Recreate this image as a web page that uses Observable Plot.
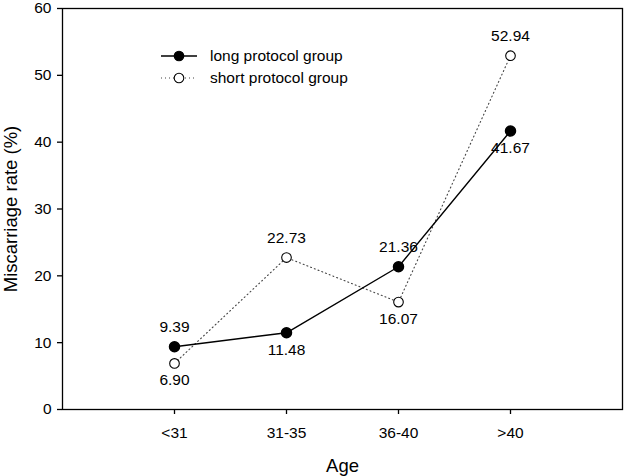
<!DOCTYPE html>
<html>
<head>
<meta charset="utf-8">
<script src="https://cdn.jsdelivr.net/npm/d3@7"></script>
<script src="https://cdn.jsdelivr.net/npm/@observablehq/plot@0.6"></script>
<style>
  html, body { margin: 0; padding: 0; background: #fff; }
  svg { font-family: "Liberation Sans", Arial, sans-serif; }
</style>
</head>
<body>
<div id="chart"></div>
<script>
const categories = ["<31", "31-35", "36-40", ">40"];
const longValues = [9.39, 11.48, 21.36, 41.67];
const shortValues = [6.90, 22.73, 16.07, 52.94];
const longLabelPos = ["above", "below", "above", "below"];
const shortLabelPos = ["below", "above", "below", "above"];
const yTicks = [0, 10, 20, 30, 40, 50, 60];
const seriesNames = ["long protocol group", "short protocol group"];

const longData = categories.map((c, i) => ({age: c, v: longValues[i], pos: longLabelPos[i]}));
const shortData = categories.map((c, i) => ({age: c, v: shortValues[i], pos: shortLabelPos[i]}));
const allLabels = [...longData, ...shortData];

const FS = 15.5;

const plot = Plot.plot({
  width: 624,
  height: 476,
  marginLeft: 62,
  marginRight: 2,
  marginTop: 8,
  marginBottom: 67,
  style: {fontFamily: "'Liberation Sans', Arial, sans-serif", fontSize: FS + "px", background: "#fff", color: "#000"},
  x: {type: "point", domain: categories, padding: 1},
  y: {domain: [0, 60]},
  marks: [
    Plot.frame({stroke: "#000", strokeWidth: 1.3}),
    Plot.axisY({ticks: yTicks, tickSize: 5, tickPadding: 6, strokeWidth: 1.3, fontSize: FS,
      label: "Miscarriage rate (%)", labelAnchor: "center", labelArrow: "none", labelOffset: 59}),
    Plot.axisX({tickSize: 5, tickPadding: 12, strokeWidth: 1.3, fontSize: FS,
      label: "Age", labelAnchor: "center", labelArrow: "none", labelOffset: 62}),
    Plot.line(shortData, {x: "age", y: "v", stroke: "#444", strokeWidth: 1.1, strokeDasharray: "1,3"}),
    Plot.line(longData, {x: "age", y: "v", stroke: "#000", strokeWidth: 1.4}),
    Plot.dot(shortData, {x: "age", y: "v", r: 4.8, fill: "#fff", stroke: "#000", strokeWidth: 1.1}),
    Plot.dot(longData, {x: "age", y: "v", r: 5, fill: "#000", stroke: "#000"}),
    Plot.text(allLabels.filter(d => d.pos === "above"), {x: "age", y: "v", text: d => d.v.toFixed(2), dy: -20, fontSize: FS, fill: "#000"}),
    Plot.text(allLabels.filter(d => d.pos === "below"), {x: "age", y: "v", text: d => d.v.toFixed(2), dy: 17, fontSize: FS, fill: "#000"})
  ]
});

// axis title sizes
d3.select(plot).selectAll("[aria-label='y-axis label'] text, [aria-label='x-axis label'] text")
  .style("font-size", "18.5px");

// legend inside plot
const svg = d3.select(plot);
const lg = svg.append("g").attr("font-size", FS).attr("text-anchor", "start")
  .attr("font-family", "'Liberation Sans', Arial, sans-serif");
const rows = [
  {name: seriesNames[0], y: 56, dash: null, fill: "#000", sw: 1.4, stroke: "#000"},
  {name: seriesNames[1], y: 78, dash: "1,3", fill: "#fff", sw: 1.1, stroke: "#444"}
];
rows.forEach(r => {
  lg.append("line").attr("x1", 161).attr("x2", 197).attr("y1", r.y).attr("y2", r.y)
    .attr("stroke", r.stroke).attr("stroke-width", r.sw).attr("stroke-dasharray", r.dash);
  lg.append("circle").attr("cx", 179).attr("cy", r.y).attr("r", 4.8)
    .attr("fill", r.fill).attr("stroke", "#000").attr("stroke-width", 1.1);
  lg.append("text").attr("x", 210).attr("y", r.y).attr("dy", "0.35em").text(r.name);
});

document.getElementById("chart").appendChild(plot);
</script>
</body>
</html>
